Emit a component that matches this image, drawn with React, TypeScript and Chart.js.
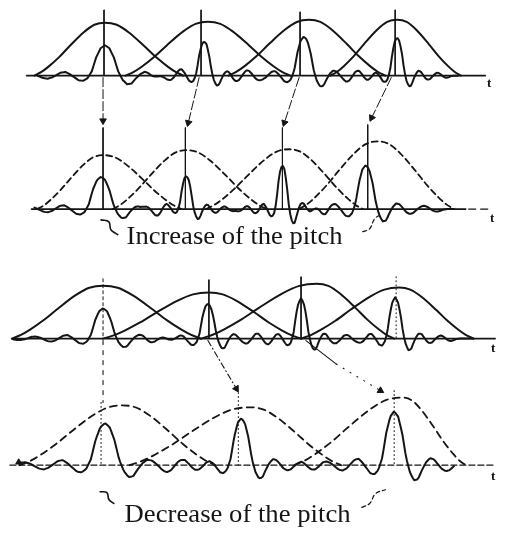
import React, { useEffect, useRef } from "react";
import { Chart, registerables } from "chart.js";

Chart.register(...registerables);

const INK = "#151515";

// ---- scales (time along x, amplitude up along y) ----
const X_MIN = 0;
const X_MAX = 508;
const Y_MIN = 0;
const Y_MAX = 533;

// ---- rows: baselines and extents ----
const ROW_BASE = [461, 325, 193, 64];
const ROW_AXIS_FROM = [22, 27, 8, 5];
const ROW_AXIS_TO = [490, 470, 500, 500];
const ROW_SIGNAL_FROM = [33, 30, 8, 14];
const ROW_SIGNAL_TO = [462, 458, 478, 458];

// ---- elementary pulse (sinc-like) ----
const PULSE_OFFSETS = [-72, -69, -66, -63, -60, -57, -54, -51, -48, -45, -42, -39, -36, -33, -30, -27, -24, -21, -18, -15, -12, -9, -6, -3, 0, 3, 6, 9, 12, 15, 18, 21, 24, 27, 30, 33, 36, 39, 42, 45, 48, 51, 54, 57, 60, 63, 66, 69, 72];
const PULSE_VALUES = [0, -0.01, -0.04, -0.05, -0.03, 0.01, 0.06, 0.07, 0.04, -0.02, -0.08, -0.1, -0.06, 0.02, 0.1, 0.12, 0.05, -0.05, -0.15, -0.17, -0.09, 0.14, 0.6, 0.9, 1.0, 0.9, 0.6, 0.14, -0.14, -0.28, -0.26, -0.09, 0.05, 0.13, 0.11, 0.02, -0.07, -0.11, -0.09, -0.02, 0.04, 0.08, 0.06, 0.01, -0.04, -0.06, -0.04, -0.01, 0];

// ---- analysis window shape ----
const WIN_U = [-1, -0.9, -0.8, -0.65, -0.5, -0.3, -0.15, 0, 0.15, 0.3, 0.5, 0.65, 0.8, 0.9, 1];
const WIN_V = [0, 0.07, 0.17, 0.35, 0.56, 0.82, 0.96, 1, 0.96, 0.82, 0.56, 0.35, 0.17, 0.07, 0];

// ---- row 1: original signal ----
const ROW1_PULSE_T = [102, 203, 305, 400];
const ROW1_PULSE_A = [31, 36, 40, 39];
const ROW1_PULSE_W = [1.5, 0.85, 1.1, 0.8];
const ROW1_WIN_T = [102, 207, 310, 400];
const ROW1_WIN_H = [54, 55, 57, 57];
const ROW1_WIN_L = [72, 84, 82, 68];
const ROW1_WIN_R = [80, 84, 78, 65];
const ROW1_MARK_T = [101, 200, 301, 398];
const ROW1_MARK_TOP = [528, 528, 526, 528];

// ---- row 2: increased pitch ----
const ROW2_PULSE_T = [98, 185, 283, 368];
const ROW2_PULSE_A = [33, 36, 45, 45];
const ROW2_PULSE_W = [1.4, 0.75, 0.7, 1.15];
const ROW2_WIN_T = [100, 185, 290, 380];
const ROW2_WIN_H = [55, 60, 61, 69];
const ROW2_WIN_L = [67, 75, 85, 80];
const ROW2_WIN_R = [80, 82, 75, 78];
const ROW2_MARK_T = [100, 184, 283, 370];
const ROW2_MARK_TOP = [408, 408, 408, 411];

// ---- row 3: original signal ----
const ROW3_PULSE_T = [100, 207, 302, 398];
const ROW3_PULSE_A = [31, 36, 41, 42];
const ROW3_PULSE_W = [1.35, 0.95, 0.85, 0.9];
const ROW3_WIN_T = [100, 208, 318, 402];
const ROW3_WIN_H = [54, 47, 56, 52];
const ROW3_WIN_L = [93, 108, 118, 100];
const ROW3_WIN_R = [100, 94, 79, 76];
const ROW3_MARK_T = [100, 208, 302, 399];
const ROW3_MARK_TOP = [254, 253, 256, 256];

// ---- row 4: decreased pitch ----
const ROW4_PULSE_T = [102, 241, 397];
const ROW4_PULSE_A = [43, 48, 55];
const ROW4_PULSE_W = [1.6, 1.2, 1.35];
const ROW4_WIN_T = [120, 250, 405];
const ROW4_WIN_H = [61, 59, 69];
const ROW4_WIN_L = [105, 123, 110];
const ROW4_WIN_R = [95, 93, 65];
const ROW4_MARK_T = [98, 238, 397];
const ROW4_MARK_TOP = [128, 138, 140];

// ---- arrows row 1 -> row 2 ----
const ARROW1_X0 = [100, 198, 300, 394];
const ARROW1_Y0 = [459, 459, 459, 459];
const ARROW1_X1 = [100, 187, 285, 374];
const ARROW1_Y1 = [415, 413, 413, 418];

// ---- arrows row 3 -> row 4 ----
const ARROW2_X0 = [100, 207, 307, 338];
const ARROW2_Y0 = [191, 191, 191, 167];
const ARROW2_X1 = [100, 236, 338, 383];
const ARROW2_Y1 = [128, 142, 167, 140];
const ARROW2_HEAD = [false, true, false, true];

// ---- texts ----
const CAPTIONS = ["Increase of the pitch", "Decrease of the pitch"];
const CAPTION_X = [124, 122];
const CAPTION_Y = [289, 6];
const CAPTION_W = [216, 226];
const AXIS_LABEL = ["t", "t", "t", "t"];
const AXIS_LABEL_X = [494, 497, 498, 498];
const AXIS_LABEL_Y = [453, 315, 183, 52];

// ---- little brace marks near captions ----
const HOOK1_X = [98, 106, 108, 115];
const HOOK1_Y = [314, 312, 304, 299];
const TAIL1_X = [365, 372, 377, 384];
const TAIL1_Y = [302, 305, 315, 320];
const HOOK2_X = [97, 104, 106, 111];
const HOOK2_Y = [37, 36, 29, 25];
const TAIL2_X = [364, 372, 378, 388];
const TAIL2_Y = [21, 25, 35, 39];

const PULSE_T = [ROW1_PULSE_T, ROW2_PULSE_T, ROW3_PULSE_T, ROW4_PULSE_T];
const PULSE_A = [ROW1_PULSE_A, ROW2_PULSE_A, ROW3_PULSE_A, ROW4_PULSE_A];
const PULSE_W = [ROW1_PULSE_W, ROW2_PULSE_W, ROW3_PULSE_W, ROW4_PULSE_W];
const WIN_T = [ROW1_WIN_T, ROW2_WIN_T, ROW3_WIN_T, ROW4_WIN_T];
const WIN_H = [ROW1_WIN_H, ROW2_WIN_H, ROW3_WIN_H, ROW4_WIN_H];
const WIN_L = [ROW1_WIN_L, ROW2_WIN_L, ROW3_WIN_L, ROW4_WIN_L];
const WIN_R = [ROW1_WIN_R, ROW2_WIN_R, ROW3_WIN_R, ROW4_WIN_R];
const MARK_T = [ROW1_MARK_T, ROW2_MARK_T, ROW3_MARK_T, ROW4_MARK_T];
const MARK_TOP = [ROW1_MARK_TOP, ROW2_MARK_TOP, ROW3_MARK_TOP, ROW4_MARK_TOP];

function pulseAt(u: number): number {
  const first = PULSE_OFFSETS[0];
  const last = PULSE_OFFSETS[PULSE_OFFSETS.length - 1];
  if (u <= first || u >= last) return 0;
  for (let k = 0; k < PULSE_OFFSETS.length - 1; k++) {
    const a = PULSE_OFFSETS[k];
    const b = PULSE_OFFSETS[k + 1];
    if (u >= a && u <= b) {
      const f = (u - a) / (b - a);
      return PULSE_VALUES[k] * (1 - f) + PULSE_VALUES[k + 1] * f;
    }
  }
  return 0;
}

function signalPoints(row: number) {
  const pts: { x: number; y: number }[] = [];
  const base = ROW_BASE[row];
  for (let x = ROW_SIGNAL_FROM[row]; x <= ROW_SIGNAL_TO[row]; x += 1.5) {
    let v = 0;
    for (let i = 0; i < PULSE_T[row].length; i++) {
      v += PULSE_A[row][i] * pulseAt((x - PULSE_T[row][i]) / PULSE_W[row][i]);
    }
    pts.push({ x, y: base + v });
  }
  return pts;
}

function windowPoints(row: number, i: number) {
  const c = WIN_T[row][i];
  return WIN_U.map((u, k) => ({
    x: c + (u < 0 ? u * WIN_L[row][i] : u * WIN_R[row][i]),
    y: ROW_BASE[row] + WIN_H[row][i] * WIN_V[k],
  }));
}

const line = (data: { x: number; y: number }[], extra: Record<string, unknown> = {}) => ({
  type: "line",
  data,
  borderColor: INK,
  backgroundColor: INK,
  borderWidth: 1,
  pointRadius: 0,
  fill: false,
  tension: 0,
  clip: false,
  ...extra,
});

const pts = (xs: number[], ys: number[]) => xs.map((x, i) => ({ x, y: ys[i] }));

const textPlugin = {
  id: "pitchTexts",
  afterDatasetsDraw(chart: any) {
    const { ctx } = chart;
    const sx = chart.scales.x;
    const sy = chart.scales.y;
    ctx.save();
    ctx.fillStyle = INK;
    ctx.textBaseline = "alphabetic";
    ctx.textAlign = "left";
    ctx.font = '26px "Liberation Serif", "Times New Roman", serif';
    CAPTIONS.forEach((txt, i) => {
      const w = ctx.measureText(txt).width;
      const px = sx.getPixelForValue(CAPTION_X[i]);
      const py = sy.getPixelForValue(CAPTION_Y[i]);
      ctx.save();
      ctx.translate(px, py);
      ctx.scale(CAPTION_W[i] / w, 1);
      ctx.fillText(txt, 0, 0);
      ctx.restore();
    });
    ctx.font = 'bold 13px "Liberation Serif", "Times New Roman", serif';
    ctx.textAlign = "center";
    ctx.textBaseline = "middle";
    AXIS_LABEL.forEach((txt, i) => {
      ctx.fillText(txt, sx.getPixelForValue(AXIS_LABEL_X[i]), sy.getPixelForValue(AXIS_LABEL_Y[i]));
    });
    ctx.restore();
  },
};

export default function App() {
  const ref = useRef<HTMLCanvasElement | null>(null);

  useEffect(() => {
    if (!ref.current) return;
    const datasets: any[] = [];

    // axes of each row
    for (let r = 0; r < 4; r++) {
      const base = ROW_BASE[r];
      datasets.push(
        line(
          [
            { x: ROW_AXIS_FROM[r], y: base },
            { x: ROW_AXIS_TO[r], y: base },
          ],
          { borderWidth: r === 3 ? 1.2 : 1.6, borderDash: r === 3 ? [6, 3] : [] }
        )
      );
    }
    datasets.push(
      line(
        [
          { x: 473, y: ROW_BASE[1] },
          { x: 494, y: ROW_BASE[1] },
        ],
        { borderWidth: 1.4, borderDash: [7, 5] }
      )
    );

    // windows
    const winDash = [[], [6, 4], [], [7, 5]];
    for (let r = 0; r < 4; r++) {
      for (let i = 0; i < WIN_T[r].length; i++) {
        datasets.push(
          line(windowPoints(r, i), {
            borderWidth: r % 2 === 0 ? 2 : 1.8,
            borderDash: winDash[r],
            cubicInterpolationMode: "monotone",
          })
        );
      }
    }

    // signals
    for (let r = 0; r < 4; r++) {
      datasets.push(line(signalPoints(r), { borderWidth: 2, borderJoinStyle: "round" }));
    }

    // pitch marks (vertical lines)
    const markDash = [
      [[], [], [], []],
      [[], [], [], []],
      [[3, 3], [], [], [1, 3]],
      [[1, 3], [1, 3], [1, 3]],
    ];
    for (let r = 0; r < 4; r++) {
      for (let i = 0; i < MARK_T[r].length; i++) {
        datasets.push(
          line(
            [
              { x: MARK_T[r][i], y: MARK_TOP[r][i] },
              { x: MARK_T[r][i], y: ROW_BASE[r] },
            ],
            { borderWidth: 1, borderDash: markDash[r][i] }
          )
        );
      }
    }

    // arrows
    const heads: { x: number; y: number }[] = [];
    const headRot: number[] = [];
    const addHead = (x0: number, y0: number, x1: number, y1: number) => {
      heads.push({ x: x1, y: y1 });
      // screen direction: dx = x1 - x0, dy = y0 - y1 (amplitude axis points up)
      headRot.push((Math.atan2(x1 - x0, y1 - y0) * 180) / Math.PI);
    };
    for (let i = 0; i < ARROW1_X0.length; i++) {
      datasets.push(
        line(pts([ARROW1_X0[i], ARROW1_X1[i]], [ARROW1_Y0[i], ARROW1_Y1[i]]), {
          borderWidth: 1,
          borderDash: [9, 3],
        })
      );
      addHead(ARROW1_X0[i], ARROW1_Y0[i], ARROW1_X1[i], ARROW1_Y1[i]);
    }
    const arrow2Dash = [[4, 6], [6, 3, 1, 3], [], [1, 7]];
    for (let i = 0; i < ARROW2_X0.length; i++) {
      datasets.push(
        line(pts([ARROW2_X0[i], ARROW2_X1[i]], [ARROW2_Y0[i], ARROW2_Y1[i]]), {
          borderWidth: 1.1,
          borderDash: arrow2Dash[i],
        })
      );
      if (ARROW2_HEAD[i]) addHead(ARROW2_X0[i], ARROW2_Y0[i], ARROW2_X1[i], ARROW2_Y1[i]);
    }
    datasets.push({
      type: "line",
      data: heads,
      showLine: false,
      pointStyle: "triangle",
      pointRadius: 3.8,
      pointRotation: headRot,
      pointBackgroundColor: INK,
      pointBorderColor: INK,
      pointBorderWidth: 1,
      clip: false,
    });
    // small filled mark at start of row 4
    datasets.push({
      type: "line",
      data: [{ x: 14, y: 67 }],
      showLine: false,
      pointStyle: "triangle",
      pointRadius: 3.5,
      pointBackgroundColor: INK,
      pointBorderColor: INK,
      clip: false,
    });

    // brace marks near captions
    datasets.push(line(pts(HOOK1_X, HOOK1_Y), { borderWidth: 1.6, tension: 0.4 }));
    datasets.push(line(pts(TAIL1_X, TAIL1_Y), { borderWidth: 1.2, tension: 0.4, borderDash: [4, 3] }));
    datasets.push(line(pts(HOOK2_X, HOOK2_Y), { borderWidth: 1.6, tension: 0.4 }));
    datasets.push(line(pts(TAIL2_X, TAIL2_Y), { borderWidth: 1.2, tension: 0.4, borderDash: [4, 3] }));

    const chart = new Chart(ref.current, {
      type: "line",
      data: { datasets },
      options: {
        animation: false,
        responsive: false,
        devicePixelRatio: 1,
        events: [],
        layout: { padding: 0 },
        plugins: { legend: { display: false }, tooltip: { enabled: false } },
        elements: { line: { borderCapStyle: "round" } },
        scales: {
          x: { type: "linear", min: X_MIN, max: X_MAX, display: false },
          y: { type: "linear", min: Y_MIN, max: Y_MAX, display: false },
        },
      },
      plugins: [textPlugin],
    } as any);
    return () => chart.destroy();
  }, []);

  return (
    <div style={{ position: "absolute", left: 0, top: 0, width: 508, height: 533, background: "#fff" }}>
      <canvas ref={ref} width={508} height={533} style={{ display: "block" }} />
    </div>
  );
}
